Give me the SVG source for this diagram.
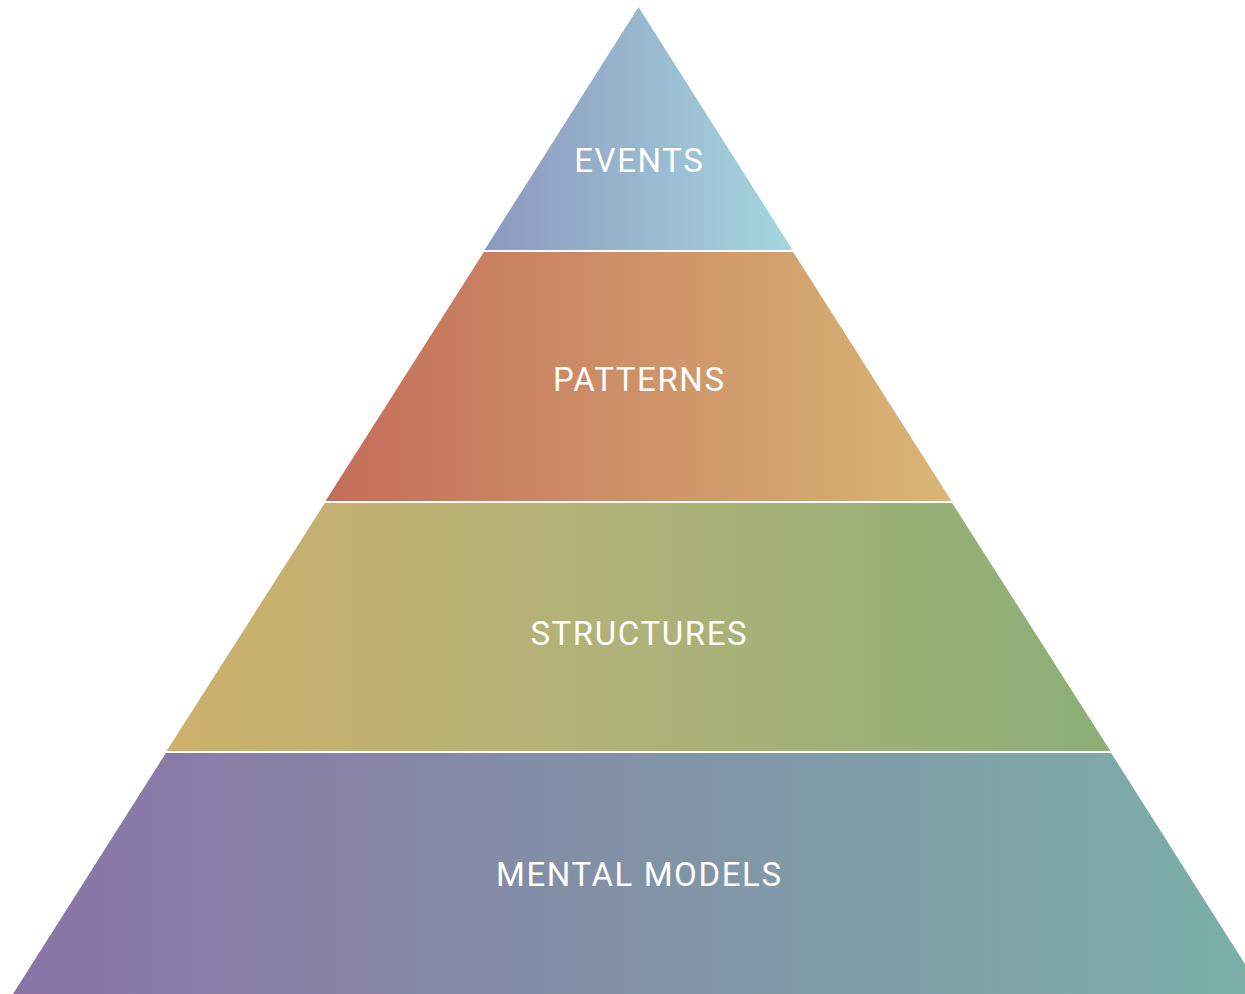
<svg xmlns="http://www.w3.org/2000/svg" width="1245" height="994" viewBox="0 0 1245 994">
<style>
.lbl{font-family:Roboto,"Liberation Sans",sans-serif;font-size:33px;font-weight:400;letter-spacing:1.6px;fill:#ffffff;text-anchor:middle}
</style>
<defs>
<linearGradient id="gE" x1="0" y1="0" x2="1" y2="0"><stop offset="0" stop-color="#8d98bf"/><stop offset="1" stop-color="#a4d7de"/></linearGradient>
<linearGradient id="gP" x1="0" y1="0" x2="1" y2="0"><stop offset="0" stop-color="#c46d5a"/><stop offset="1" stop-color="#d8b675"/></linearGradient>
<linearGradient id="gS" x1="0" y1="0" x2="1" y2="0"><stop offset="0" stop-color="#ceb06c"/><stop offset="0.5" stop-color="#aeb279"/><stop offset="1" stop-color="#8aaf76"/></linearGradient>
<linearGradient id="gM" x1="0" y1="0" x2="1" y2="0"><stop offset="0" stop-color="#8a74a6"/><stop offset="1" stop-color="#7ab0a8"/></linearGradient>
</defs>
<g id="events">
<polygon points="638.5,7 792.5,250 484.5,250" fill="url(#gE)"/>
<text class="lbl" x="639.3" y="171.5">EVENTS</text>
</g>
<g id="patterns">
<polygon points="483.9,252 793.1,252 951.5,501 325.5,501" fill="url(#gP)"/>
<text class="lbl" x="639.3" y="391">PATTERNS</text>
</g>
<g id="structures">
<polygon points="324.9,503 952.1,503 1110.4,751 166.6,751" fill="url(#gS)"/>
<text class="lbl" x="639.3" y="645">STRUCTURES</text>
</g>
<g id="mental-models">
<polygon points="165.9,753 1111.1,753 1264,994 13,994" fill="url(#gM)"/>
<text class="lbl" x="639.3" y="886">MENTAL MODELS</text>
</g>
<g id="connectors"/>
</svg>
